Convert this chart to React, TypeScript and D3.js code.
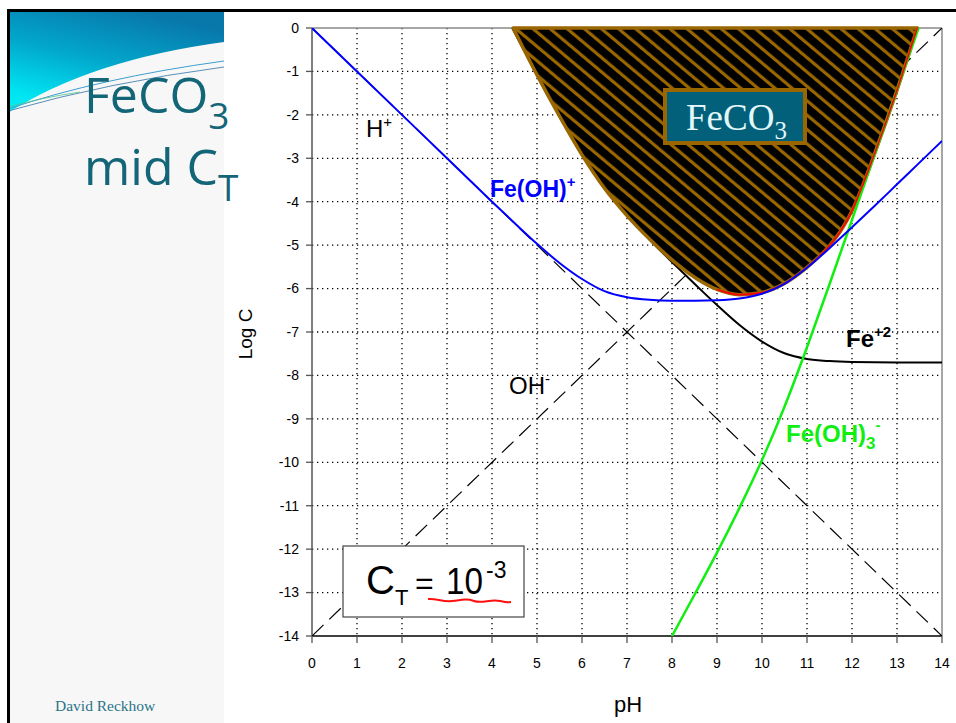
import React from 'react';
import * as d3 from 'd3';

// ---- data ----
const pHTicks = [0, 1, 2, 3, 4, 5, 6, 7, 8, 9, 10, 11, 12, 13, 14];
const logCTicks = [0, -1, -2, -3, -4, -5, -6, -7, -8, -9, -10, -11, -12, -13, -14];

const hPlus: [number, number][] = [[0, 0], [14, -14]];
const ohMinus: [number, number][] = [[0, -14], [14, 0]];

const feII: [number, number][] = [
  [4.45, 0.0], [5, -1.08], [5.5, -2.03], [6, -2.92], [6.5, -3.69], [7, -4.32], [7.5, -4.87],
  [8, -5.39], [8.5, -5.89], [9, -6.38], [9.5, -6.84], [10, -7.22], [10.5, -7.49], [11, -7.62],
  [11.5, -7.67], [12, -7.69], [13, -7.7], [14, -7.7],
];

const feOH: [number, number][] = [
  [0, 0], [1, -1], [2, -2], [3, -3], [4, -4], [4.5, -4.49], [5, -4.97], [5.5, -5.41], [6, -5.78],
  [6.5, -6.06], [7, -6.2], [7.5, -6.26], [8, -6.28], [8.5, -6.28], [9, -6.27], [9.5, -6.23],
  [10, -6.12], [10.5, -5.89], [11, -5.52], [11.5, -5.07], [12, -4.59], [12.5, -4.1], [13, -3.6],
  [13.5, -3.1], [14, -2.6],
];

const feOH3: [number, number][] = [
  [8, -14.0], [8.5, -13.05], [9, -12.08], [9.5, -11.05], [10, -9.95], [10.5, -8.72], [11, -7.35],
  [11.5, -5.9], [12, -4.42], [12.5, -2.93], [13, -1.43], [13.48, 0],
];

const feTotal: [number, number][] = [
  [4.47, 0], [5, -1.08], [5.5, -2.03], [6, -2.92], [6.5, -3.69], [7, -4.32], [7.5, -4.86],
  [8, -5.34], [8.5, -5.74], [9, -6.02], [9.5, -6.14], [10, -6.09], [10.5, -5.88], [11, -5.51],
  [11.5, -5.01], [11.75, -4.67], [12, -4.21], [12.25, -3.59], [12.5, -2.9], [13, -1.43], [13.45, 0],
];

const redFrom = 8.9;

export default function App() {
  const W = 956;
  const H = 723;
  const x = d3.scaleLinear().domain([0, 14]).range([312, 942]);
  const y = d3.scaleLinear().domain([0, -14]).range([28, 636]);

  const curve = d3
    .line<[number, number]>()
    .x((d) => x(d[0]))
    .y((d) => y(d[1]))
    .curve(d3.curveMonotoneX);
  const straight = d3
    .line<[number, number]>()
    .x((d) => x(d[0]))
    .y((d) => y(d[1]));

  const regionPath = curve(feTotal) + 'Z';
  const redPts = feTotal.filter((d) => d[0] >= redFrom);

  const sans = 'Liberation Sans, Arial, sans-serif';
  const serif = 'Liberation Serif, Times New Roman, serif';
  const brown = '#996600';

  return (
    <svg
      width={W}
      height={H}
      style={{ position: 'absolute', left: 0, top: 0, background: '#fff' }}
      fontFamily={sans}
    >
      <defs>
        <linearGradient id="hdr" x1="0.6" y1="0" x2="0.1" y2="1">
          <stop offset="0" stopColor="#0877aa" />
          <stop offset="0.45" stopColor="#02a6cb" />
          <stop offset="0.85" stopColor="#00e2f0" />
          <stop offset="1" stopColor="#00eef6" />
        </linearGradient>
        <pattern
          id="hatch"
          patternUnits="userSpaceOnUse"
          width="11"
          height="11"
          patternTransform="rotate(40)"
        >
          <rect width="11" height="11" fill={brown} />
          <rect width="11" height="7.8" fill="#000" />
        </pattern>
        <clipPath id="plotClip">
          <rect x={x(0)} y={y(0)} width={x(14) - x(0)} height={y(-14) - y(0)} />
        </clipPath>
      </defs>

      {/* slide left panel */}
      <rect x={8} y={10} width={216} height={H - 10} fill="#f7f7f7" />
      <path d="M8,10 L224,10 L224,42 Q90,60 8,113 Z" fill="url(#hdr)" />
      <path d="M8,109 Q100,78 224,61" fill="none" stroke="#3d9fd0" strokeWidth={1} />
      <path d="M8,111 Q110,82 224,67" fill="none" stroke="#5a8fb8" strokeWidth={1} />
      <path d="M8,107 Q40,98 80,92" fill="none" stroke="#4cc78c" strokeWidth={0.8} />
      <rect x={7} y={9} width={W - 7} height={3} fill="#000" />
      <rect x={7} y={9} width={3} height={H - 9} fill="#000" />

      <text x={84} y={113} fill="#136578" fontFamily="Open Sans, sans-serif" fontSize={50}>
        FeCO<tspan dy={16} fontSize={37}>3</tspan>
      </text>
      <text x={84} y={185} fill="#136578" fontFamily="Open Sans, sans-serif" fontSize={50}>
        mid C<tspan dy={16} fontSize={37}>T</tspan>
      </text>
      <text x={55} y={711} fill="#2a7487" fontFamily={serif} fontSize={15.5}>
        David Reckhow
      </text>

      {/* grid */}
      <g stroke="#000" strokeWidth={1.3} strokeDasharray="1.3 3.7">
        {pHTicks.slice(1, -1).map((t) => (
          <line key={'gx' + t} x1={x(t)} x2={x(t)} y1={y(0)} y2={y(-14)} />
        ))}
        {logCTicks.slice(1, -1).map((t) => (
          <line key={'gy' + t} x1={x(0)} x2={x(14)} y1={y(t)} y2={y(t)} />
        ))}
      </g>

      {/* frame */}
      <line x1={x(0)} x2={x(14)} y1={y(0)} y2={y(0)} stroke="#888" strokeWidth={1.5} />
      <line x1={x(14)} x2={x(14)} y1={y(0)} y2={y(-14)} stroke="#888" strokeWidth={1.5} />
      <line x1={x(0)} x2={x(0)} y1={y(0)} y2={y(-14)} stroke="#555" strokeWidth={1.5} />
      <line x1={x(0)} x2={x(14)} y1={y(-14)} y2={y(-14)} stroke="#000" strokeWidth={1.5} />
      {logCTicks.map((t) => (
        <g key={'ty' + t}>
          <line x1={x(0) - 6} x2={x(0)} y1={y(t)} y2={y(t)} stroke="#555" strokeWidth={1.3} />
          <text x={299} y={y(t)} dy="0.35em" textAnchor="end" fontSize={14} fill="#000">
            {t}
          </text>
        </g>
      ))}
      {pHTicks.map((t) => (
        <g key={'tx' + t}>
          <line x1={x(t)} x2={x(t)} y1={y(-14)} y2={y(-14) + 7} stroke="#555" strokeWidth={1.3} />
          <text x={x(t)} y={668} textAnchor="middle" fontSize={14} fill="#000">
            {t}
          </text>
        </g>
      ))}
      <text x={628} y={712} textAnchor="middle" fontSize={22} fill="#000">
        pH
      </text>
      <text
        transform="translate(252,334) rotate(-90)"
        textAnchor="middle"
        fontSize={19}
        fill="#000"
      >
        Log C
      </text>

      {/* lines */}
      <g clipPath="url(#plotClip)" fill="none">
        <path d={straight(hPlus)!} stroke="#000" strokeWidth={1.2} strokeDasharray="16 8" />
        <path d={straight(ohMinus)!} stroke="#000" strokeWidth={1.2} strokeDasharray="16 8" />
        <path d={curve(feII)!} stroke="#000" strokeWidth={2} />
      </g>

      {/* FeCO3 region */}
      <path d={regionPath} fill="url(#hatch)" stroke={brown} strokeWidth={3.5} strokeLinejoin="round" />

      <g clipPath="url(#plotClip)" fill="none">
        <path d={curve(feOH3)!} stroke="#11ee11" strokeWidth={2.5} />
        <path d={curve(redPts)!} stroke="#ff0000" strokeWidth={1.6} />
        <path d={curve(feOH)!} stroke="#0000ff" strokeWidth={2} />
      </g>

      {/* FeCO3 label box */}
      <rect x={665} y={90} width={140} height={53} fill="#03607a" stroke={brown} strokeWidth={4} />
      <text x={686} y={130} fill="#e2f7f9" fontFamily={serif} fontSize={37}>
        FeCO<tspan dy={9} fontSize={25}>3</tspan>
      </text>

      {/* species labels */}
      <text x={366} y={137} fontSize={24} fill="#000">
        H<tspan dy={-10} fontSize={15}>+</tspan>
      </text>
      <text x={490} y={197} fontSize={23} fontWeight="bold" fill="#0000ff">
        Fe(OH)<tspan dy={-10} fontSize={15}>+</tspan>
      </text>
      <text x={846} y={347} fontSize={24} fontWeight="bold" fill="#000">
        Fe<tspan dy={-10} fontSize={15}>+2</tspan>
      </text>
      <text x={509} y={394} fontSize={24} fill="#000">
        OH<tspan dy={-10} fontSize={15}>-</tspan>
      </text>
      <text x={786} y={442} fontSize={24} fontWeight="bold" fill="#11ee11">
        Fe(OH)<tspan dy={7} fontSize={17}>3</tspan>
        <tspan dy={-19} fontSize={15}>-</tspan>
      </text>

      {/* C_T box */}
      <rect x={343} y={546} width={181} height={71} fill="#fff" stroke="#444" strokeWidth={1.2} />
      <text x={366} y={594} fontSize={40} fill="#000">
        C
      </text>
      <text x={395} y={605} fontSize={22} fill="#000">
        T
      </text>
      <text x={415} y={594} fontSize={32} fill="#000">
        =
      </text>
      <text x={446} y={594} fontSize={36} fill="#000" textLength={37} lengthAdjust="spacingAndGlyphs">
        10
      </text>
      <text x={486} y={578} fontSize={23} fill="#000">
        -3
      </text>
      <path
        d="M428,599 C436,598 442,602 452,601 S466,598 474,601 S490,599 500,601 S508,602 511,602"
        fill="none"
        stroke="#ff1010"
        strokeWidth={2}
      />
    </svg>
  );
}
